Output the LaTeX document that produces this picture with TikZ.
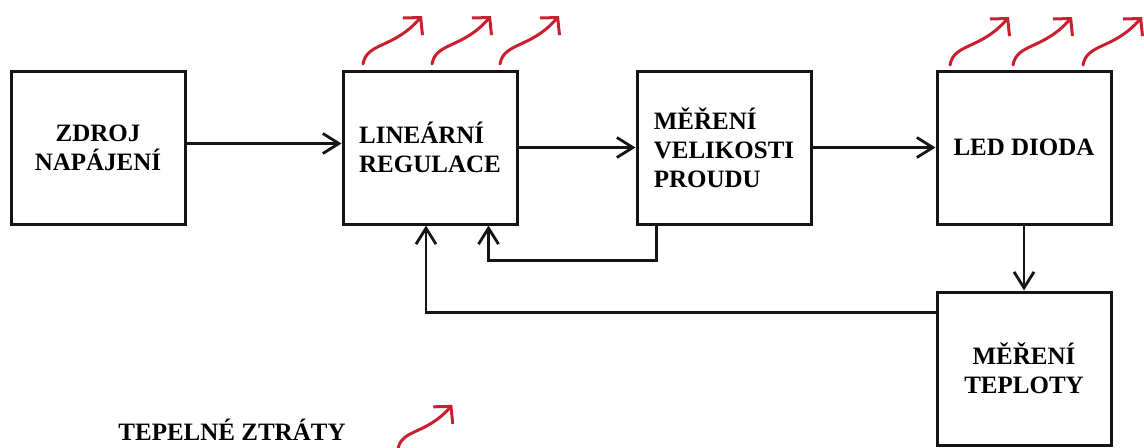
\documentclass[tikz,border=0pt]{standalone}
\usepackage{fontspec}
\setmainfont{Liberation Serif}
\usepackage{tikz}
\usetikzlibrary{positioning,arrows.meta,calc}
\definecolor{palInk}{HTML}{151515}
\definecolor{palHeat}{HTML}{C8202E}
\tikzset{
  blockbox/.style={draw=palInk, line width=1.5pt, minimum width=87pt,
                   minimum height=76.5pt, inner sep=2pt, align=center,
                   font=\fontsize{12.5}{14.5}\selectfont\bfseries},
  flowarrow/.style={-{Straight Barb[length=8pt,width=10pt]}, line width=1.4pt,
                    draw=palInk},
  heatarrow/.style={-{Straight Barb[length=6pt,width=13pt]}, line width=1.5pt,
                    draw=palHeat, line cap=round},
}

\begin{document}
\begin{tikzpicture}[x=0.5pt, y=-0.5pt]
\def\yHeatReg{64}    % y-position where heat arrows above regulation start
\def\yHeatLed{65}    % y-position where heat arrows above LED start
\useasboundingbox (0,0) rectangle (1144,447);

%% Blocks
\node[blockbox] (zdroj) at (98,147.5) {ZDROJ\\NAPÁJENÍ};
\node[blockbox, align=left, right=77.5pt of zdroj] (linreg) {LINEÁRNÍ\\REGULACE};
\node[blockbox, align=left, right=58.5pt of linreg] (merproud) {MĚŘENÍ\\VELIKOSTI\\PROUDU};
\node[blockbox, right=61.5pt of merproud] (led) {LED DIODA};
\node[blockbox, below=32.5pt of led] (merteplo) {MĚŘENÍ\\TEPLOTY};

%% Legend
\node[font=\fontsize{12.5}{14.5}\selectfont\bfseries] (legend) at (232,430) {TEPELNÉ ZTRÁTY};

%% Signal flow
\draw[flowarrow] ([yshift=2pt]zdroj.east) -- ([yshift=2pt]linreg.west);
\draw[flowarrow] (linreg) -- (merproud);
\draw[flowarrow] (merproud) -- (led);
\draw[flowarrow] (led) -- (merteplo);

%% Feedback loops
\draw[flowarrow] ([xshift=10.5pt]merproud.south west) -- ++(0,35) -| ([xshift=73.5pt]linreg.south west);
\draw[flowarrow] ([yshift=28pt]merteplo.west) -| ([xshift=-2pt]linreg.south);

%% Heat losses
\foreach \hx in {363,432,500}
  \draw[heatarrow, shift={(\hx,\yHeatReg)}] (0,0) .. controls (4,-22) and (30,-15) .. (59,-48);
\foreach \hx in {950,1013,1083}
  \draw[heatarrow, shift={(\hx,\yHeatLed)}] (0,0) .. controls (4,-22) and (30,-15) .. (59,-48);
\draw[heatarrow, shift={(398,449)}, scale=0.92] (0,0) .. controls (4,-22) and (30,-15) .. (59,-48);
\end{tikzpicture}
\end{document}
